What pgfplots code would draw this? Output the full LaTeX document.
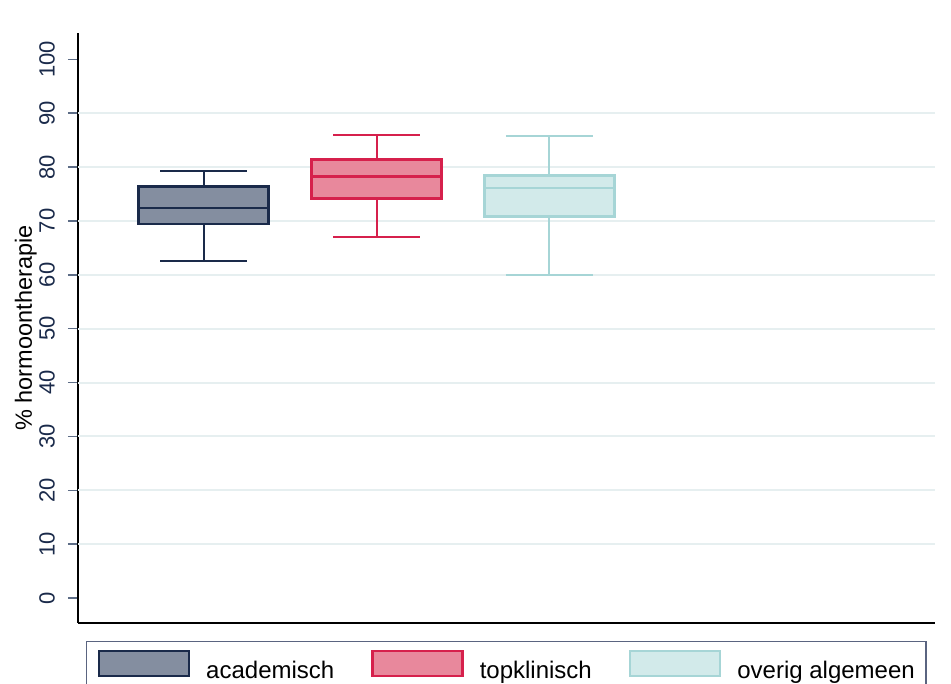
\documentclass[border=0pt]{standalone}
\usepackage{pgfplots}
\pgfplotsset{compat=1.18}
\usepackage{fontspec}
\setmainfont{Liberation Sans}
\definecolor{navyB}{HTML}{1A2A4A}
\definecolor{navyF}{HTML}{848EA0}
\definecolor{redB}{HTML}{D6204C}
\definecolor{redF}{HTML}{E8889C}
\definecolor{tealB}{HTML}{A6D5D6}
\definecolor{tealF}{HTML}{D2EAEA}
\definecolor{gridc}{HTML}{E6EFF0}
\definecolor{tickc}{HTML}{5C6C86}
\definecolor{legc}{HTML}{5A6480}
\begin{document}
\begin{tikzpicture}
\begin{axis}[
  at={(78pt,61pt)}, anchor=south west,
  scale only axis, width=857pt, height=590pt,
  xmin=0.2726, xmax=5.232, ymin=-4.64, ymax=104.88,
  axis x line*=bottom, axis y line*=left,
  axis line style={black, line width=1.5pt, -},
  xtick=\empty,
  ytick={0,10,...,100},
  tick align=outside,
  major tick length=10pt,
  ytick style={color=tickc, line width=1.5pt},
  yticklabel style={rotate=90, anchor=south, inner sep=0pt, font=\fontsize{22}{26}\selectfont, text=navyB},
  yticklabel shift=13pt,
  /pgf/number format/assume math mode=true,
  extra y ticks={10,20,...,90},
  extra y tick labels={},
  extra y tick style={grid=major, major tick length=0pt, grid style={gridc, line width=2pt}},
  ylabel={\% hormoontherapie},
  every axis y label/.style={at={([xshift=-41pt]axis description cs:0,0.5)}, rotate=90, anchor=south, inner sep=0pt, font=\fontsize{23.5}{28}\selectfont},
  unbounded coords=jump,
  legend columns=3,
  legend style={at={(axis description cs:0.00933,-0.0305)}, anchor=north west, draw=legc, line width=1.5pt, inner xsep=11pt, inner ysep=8pt, font=\fontsize{24}{28}\selectfont, /tikz/every odd column/.append style={column sep=16pt}, /tikz/every even column/.append style={column sep=37pt}, nodes={inner sep=0pt}},
]
% academisch: whiskers 62.5 / 79.2, quartiles 69.4 / 76.4, median 72.4
\addplot[forget plot, navyB, line width=2pt] coordinates {(1,76.4) (1,79.2) (nan,nan) (0.7485,79.2) (1.2515,79.2) (nan,nan) (1,69.4) (1,62.5) (nan,nan) (0.7485,62.5) (1.2515,62.5)};
\addplot[forget plot, draw=navyB, fill=navyF, line width=2.5pt] coordinates {(0.624,69.4) (1.376,69.4) (1.376,76.4) (0.624,76.4)} -- cycle;
\addplot[forget plot, navyB, line width=2.5pt] coordinates {(0.624,72.4) (1.376,72.4)};
% topklinisch: whiskers 67.1 / 86.0, quartiles 74.2 / 81.4, median 78.2
\addplot[forget plot, redB, line width=2pt] coordinates {(2,81.4) (2,86.0) (nan,nan) (1.7485,86.0) (2.2515,86.0) (nan,nan) (2,74.2) (2,67.1) (nan,nan) (1.7485,67.1) (2.2515,67.1)};
\addplot[forget plot, draw=redB, fill=redF, line width=2.5pt] coordinates {(1.624,74.2) (2.376,74.2) (2.376,81.4) (1.624,81.4)} -- cycle;
\addplot[forget plot, redB, line width=2.5pt] coordinates {(1.624,78.2) (2.376,78.2)};
% overig algemeen: whiskers 59.9 / 85.8, quartiles 70.8 / 78.4, median 76.1
\addplot[forget plot, tealB, line width=2pt] coordinates {(3,78.4) (3,85.8) (nan,nan) (2.7485,85.8) (3.2515,85.8) (nan,nan) (3,70.8) (3,59.9) (nan,nan) (2.7485,59.9) (3.2515,59.9)};
\addplot[forget plot, draw=tealB, fill=tealF, line width=2.5pt] coordinates {(2.624,70.8) (3.376,70.8) (3.376,78.4) (2.624,78.4)} -- cycle;
\addplot[forget plot, tealB, line width=2.5pt] coordinates {(2.624,76.1) (3.376,76.1)};
\addlegendimage{legend image code/.code={\draw[draw=navyB, fill=navyF, line width=2.5pt] (0pt,-5pt) rectangle (90pt,20pt);}}
\addlegendentry{academisch}
\addlegendimage{legend image code/.code={\draw[draw=redB, fill=redF, line width=2.5pt] (0pt,-5pt) rectangle (90pt,20pt);}}
\addlegendentry{topklinisch}
\addlegendimage{legend image code/.code={\draw[draw=tealB, fill=tealF, line width=2.5pt] (0pt,-5pt) rectangle (90pt,20pt);}}
\addlegendentry{overig algemeen}
\end{axis}
\pgfresetboundingbox
\useasboundingbox (0,0) rectangle (951pt,684pt);
\end{tikzpicture}
\end{document}
